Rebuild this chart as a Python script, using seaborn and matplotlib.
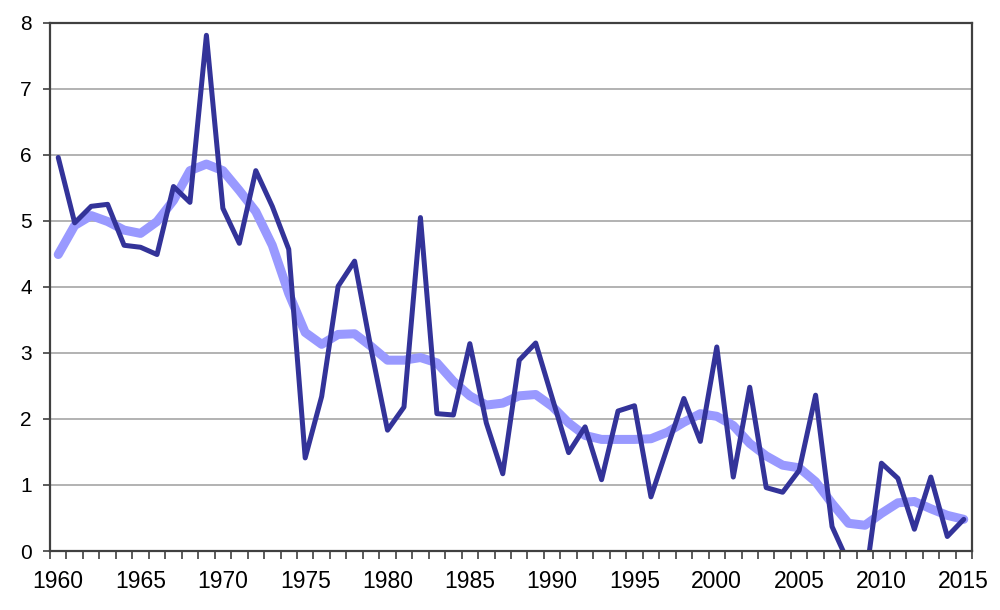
import numpy as np
import pandas as pd
import seaborn as sns
import matplotlib.pyplot as plt
from matplotlib.ticker import MultipleLocator, FixedLocator

# valores
anos = list(range(1960, 2016))
anual = [5.96, 4.97, 5.22, 5.25, 4.63, 4.60, 4.49, 5.52, 5.28, 7.81,
         5.19, 4.66, 5.76, 5.22, 4.57, 1.41, 2.34, 4.01, 4.39, 3.06,
         1.83, 2.18, 5.05, 2.08, 2.06, 3.14, 1.94, 1.17, 2.89, 3.15,
         2.32, 1.49, 1.88, 1.08, 2.12, 2.20, 0.82, 1.57, 2.31, 1.66,
         3.09, 1.12, 2.48, 0.96, 0.89, 1.22, 2.36, 0.37, -0.18, -0.49,
         1.33, 1.10, 0.33, 1.12, 0.22, 0.48]
suavizado = [4.49, 4.93, 5.08, 4.99, 4.86, 4.81, 4.99, 5.31, 5.76, 5.86,
             5.76, 5.46, 5.14, 4.63, 3.90, 3.31, 3.13, 3.28, 3.29, 3.10,
             2.89, 2.89, 2.93, 2.85, 2.57, 2.35, 2.21, 2.24, 2.35, 2.37,
             2.19, 1.94, 1.75, 1.69, 1.69, 1.69, 1.70, 1.80, 1.95, 2.08,
             2.04, 1.90, 1.63, 1.44, 1.30, 1.26, 1.05, 0.72, 0.42, 0.39,
             0.57, 0.73, 0.75, 0.64, 0.54, 0.48]
rotulos_x = list(range(1960, 2016, 5))

df = pd.DataFrame({'ano': anos, 'anual': anual, 'suavizado': suavizado})

sns.set_theme(style="white")
plt.rcParams['font.family'] = ['Liberation Sans', 'DejaVu Sans']

fig = plt.figure(figsize=(10, 6.1), dpi=100)
ax = fig.add_axes([0.05, 0.0967, 0.922, 0.866])

# linha suavizada por baixo, série anual por cima
sns.lineplot(data=df, x='ano', y='suavizado', ax=ax, color='#9999FF', linewidth=6.5,
             solid_joinstyle='round', solid_capstyle='round')
sns.lineplot(data=df, x='ano', y='anual', ax=ax, color='#333399', linewidth=3.6,
             solid_joinstyle='round', solid_capstyle='round')

ax.set_xlim(1959.5, 2015.5)
ax.set_ylim(0, 8)
ax.set_xlabel('')
ax.set_ylabel('')

ax.yaxis.set_major_locator(MultipleLocator(1))
ax.grid(axis='y', color='#A6A6A6', linewidth=1.2)
ax.set_axisbelow(True)

ax.xaxis.set_major_locator(FixedLocator(rotulos_x))
ax.set_xticklabels([str(a) for a in rotulos_x])
ax.xaxis.set_minor_locator(FixedLocator(np.arange(1959.5, 2016, 1)))
ax.tick_params(axis='x', which='major', length=0, pad=14, labelsize=16.5, colors='black')
ax.tick_params(axis='x', which='minor', length=6, width=1.2, color='#404040', direction='out', bottom=True)
ax.tick_params(axis='y', which='major', length=5, width=1.2, color='#404040', direction='out',
               left=True, pad=8, labelsize=15, labelcolor='black')

for lado in ['left', 'bottom', 'top', 'right']:
    ax.spines[lado].set_visible(True)
    ax.spines[lado].set_color('#404040')
    ax.spines[lado].set_linewidth(1.6)

plt.savefig('out.png', dpi=100)
